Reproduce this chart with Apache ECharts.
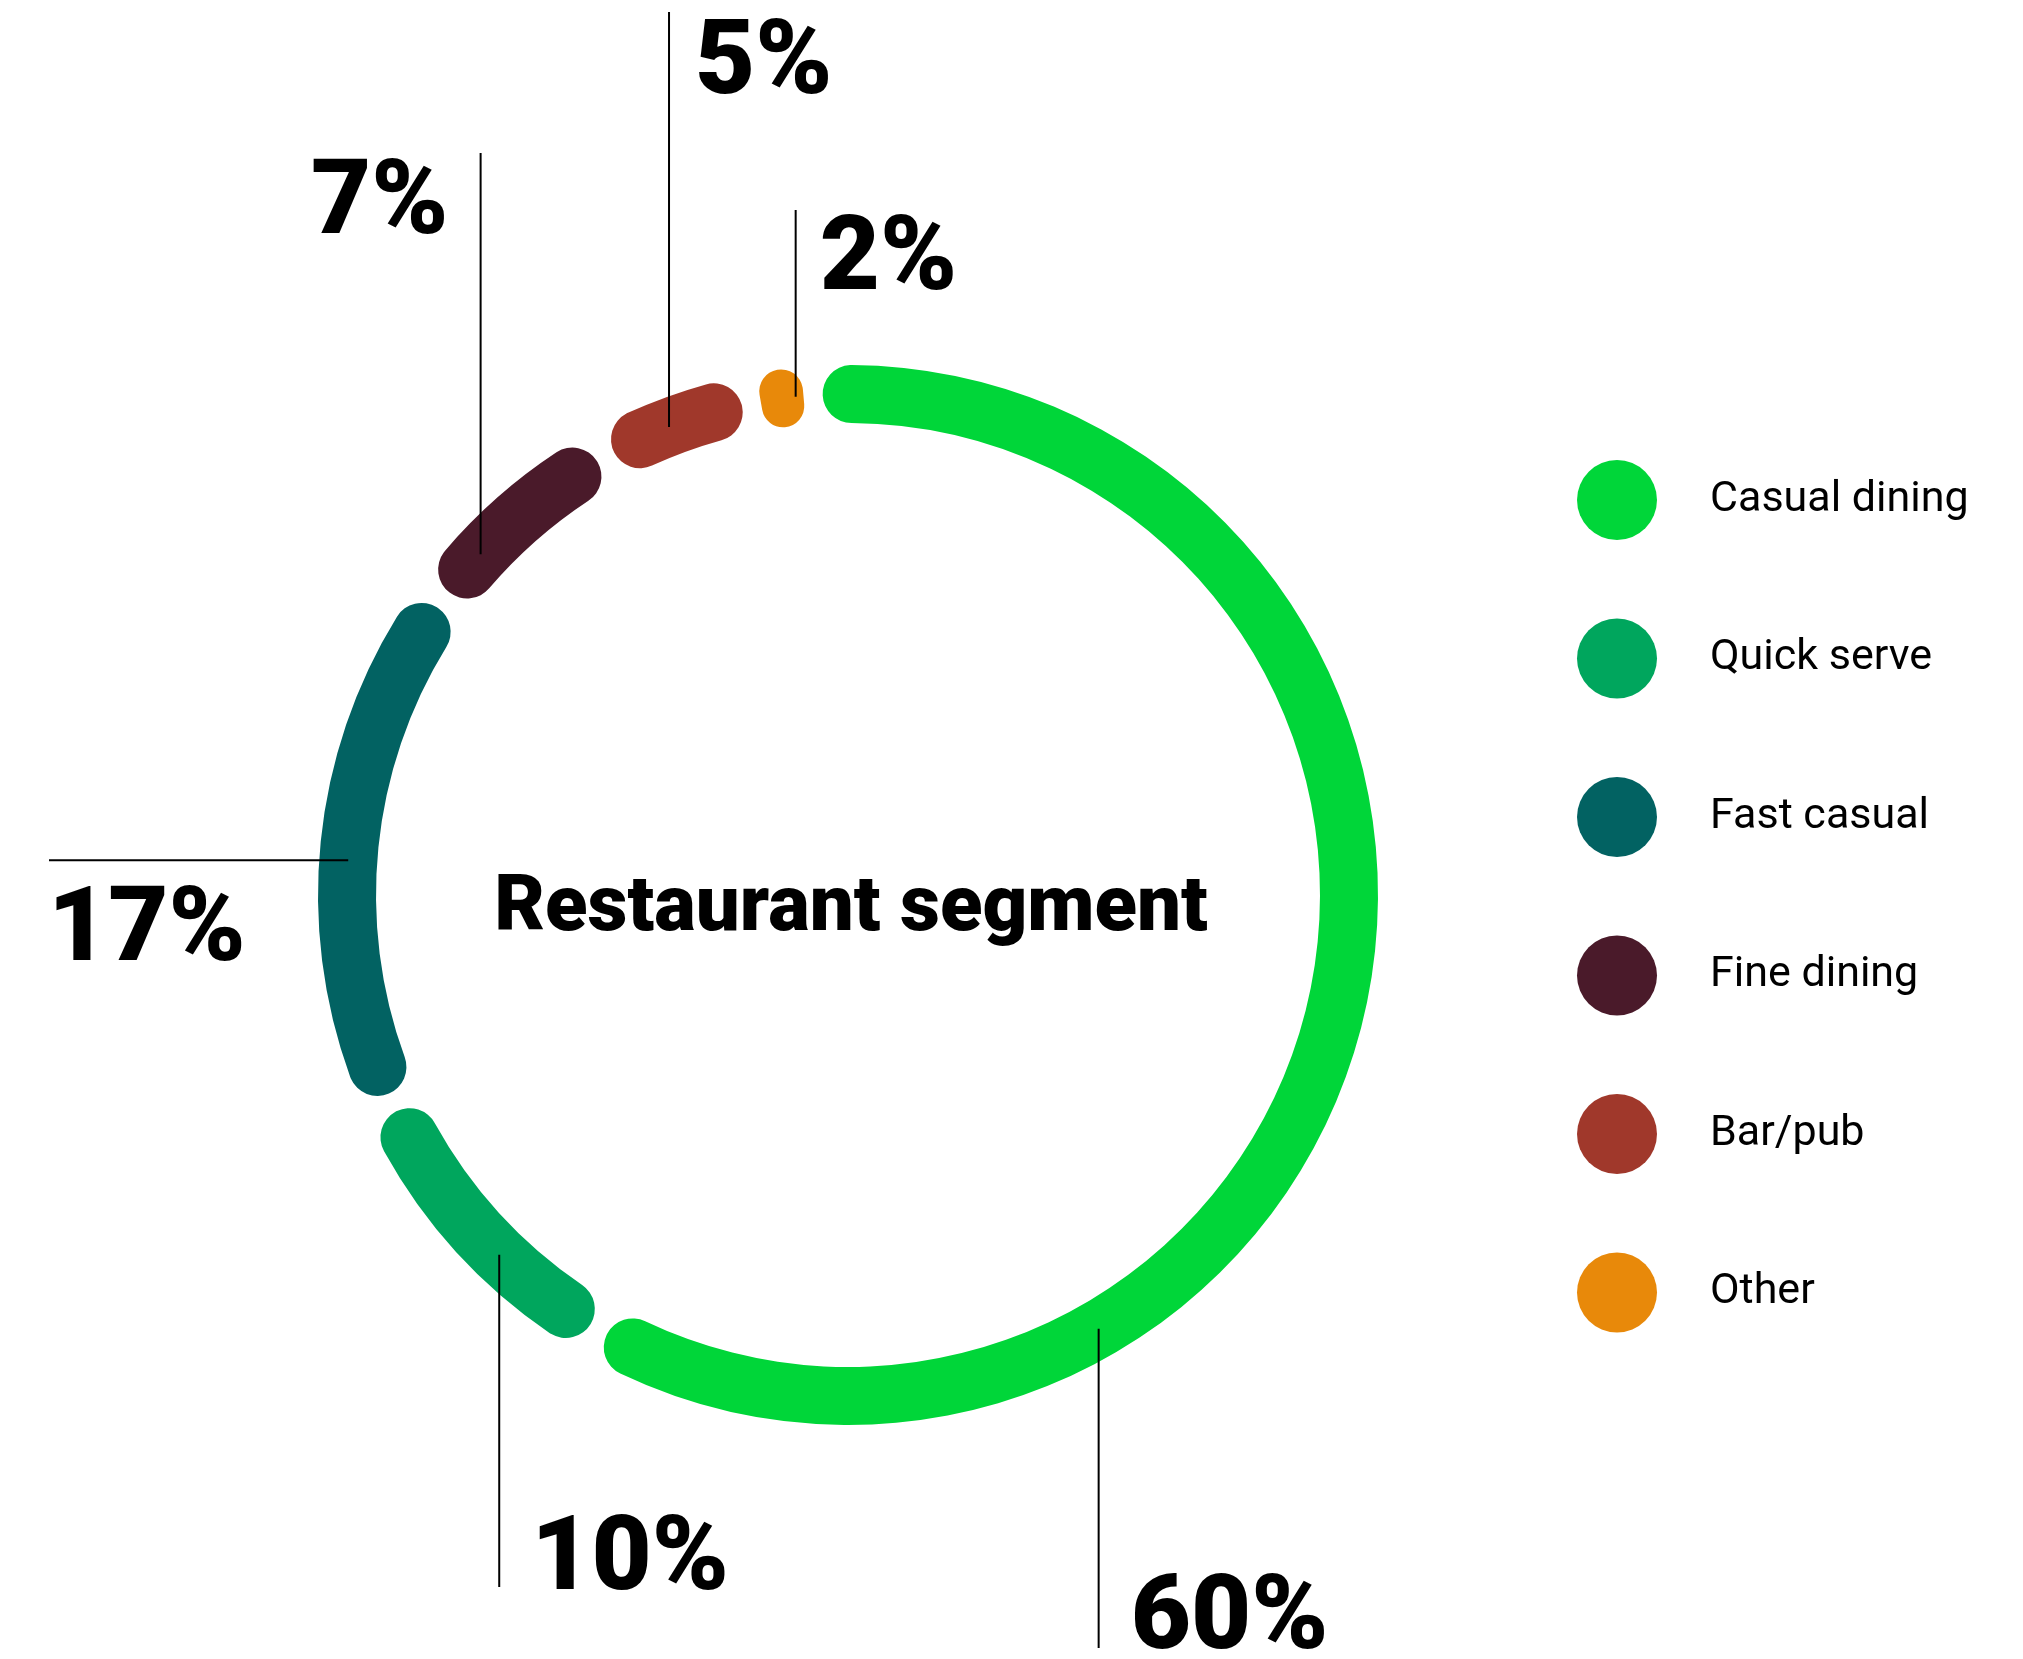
<!DOCTYPE html>
<html>
<head>
<meta charset="utf-8">
<title>Restaurant segment</title>
<script src="https://cdn.jsdelivr.net/npm/echarts@6/dist/echarts.min.js"></script>
<style>
  html, body { margin: 0; padding: 0; background: #ffffff; }
  #chart { width: 2023px; height: 1659px; }
</style>
</head>
<body>
<div id="chart"></div>
<script>
// ---- data ----
const categories = ['Casual dining', 'Quick serve', 'Fast casual', 'Fine dining', 'Bar/pub', 'Other'];
const shares = [60, 10, 17, 7, 5, 2];
const colors = ['#00D639', '#00A65D', '#026262', '#4A1A2A', '#A0382B', '#E8890A'];
const centerTitle = 'Restaurant segment';

// ---- ring geometry ----
const CX = 848, CY = 895;
const R_IN = 472, R_OUT = 530;
const R_MID = (R_IN + R_OUT) / 2;
const START_ANGLE = 94;   // echarts convention: degrees counter-clockwise from 3 o'clock
const PAD_ANGLE = 2.2;

// callout styling: where along the slice the leader line starts, which way it runs,
// where it stops, and where the value text sits relative to the line end
const callouts = [
  { frac: 0.72, dir: 'down', end: 1648, dx: 32,  dy: -26, align: 'left'  },
  { frac: 0.40, dir: 'down', end: 1587, dx: 32,  dy: -24, align: 'left'  },
  { frac: 0.47, dir: 'left', end: 49,   dx: -1,  dy: 74,  align: 'left'  },
  { frac: 0.27, dir: 'up',   end: 153,  dx: -32, dy: 54,  align: 'right' },
  { frac: 0.45, dir: 'up',   end: 12,   dx: 26,  dy: 55,  align: 'left'  },
  { frac: 0.72, dir: 'up',   end: 210,  dx: 24,  dy: 53,  align: 'left'  }
];

const total = shares.reduce((a, b) => a + b, 0);
const offsets = [];
shares.reduce((acc, v) => { offsets.push(acc); return acc + v; }, 0);

// point on the middle of the ring, part-way along slice i (same layout rule the pie uses)
function anchorPoint(i, frac) {
  const deg = (90 - START_ANGLE) + (offsets[i] + frac * shares[i]) / total * 360;
  const rad = deg * Math.PI / 180;
  return [CX + R_MID * Math.sin(rad), CY - R_MID * Math.cos(rad)];
}

// leader line for slice i: from the ring out to the callout end
function leaderPoints(i) {
  const c = callouts[i];
  const a = anchorPoint(i, c.frac);
  return c.dir === 'left' ? [a, [c.end, a[1]]] : [a, [a[0], c.end]];
}

const leaderLines = categories.map((_, i) => {
  const pts = leaderPoints(i);
  return {
    type: 'line',
    z: 100,
    silent: true,
    shape: { x1: pts[0][0], y1: pts[0][1], x2: pts[1][0], y2: pts[1][1] },
    style: { stroke: '#000000', lineWidth: 2 }
  };
});

const chart = echarts.init(document.getElementById('chart'), null, { renderer: 'canvas' });

chart.setOption({
  animation: false,
  backgroundColor: '#ffffff',
  color: colors,
  legend: {
    orient: 'vertical',
    left: 1577,
    top: 460,
    padding: 0,
    icon: 'circle',
    itemWidth: 80,
    itemHeight: 80,
    itemGap: 78.5,
    selectedMode: false,
    data: categories,
    textStyle: {
      fontFamily: 'Roboto',
      fontSize: 43,
      color: '#000000',
      padding: [0, 0, 0, 48]
    }
  },
  graphic: [{
    type: 'text',
    x: 851,
    y: 910,
    z: 100,
    style: {
      text: centerTitle,
      align: 'center',
      verticalAlign: 'middle',
      fontFamily: 'Roboto',
      fontWeight: 900,
      fontSize: 78,
      fill: '#000000'
    }
  }].concat(leaderLines),
  series: [{
    type: 'pie',
    center: [CX, CY],
    radius: [R_IN, R_OUT],
    startAngle: START_ANGLE,
    clockwise: true,
    padAngle: PAD_ANGLE,
    avoidLabelOverlap: false,
    emphasis: { disabled: true },
    itemStyle: { borderRadius: (R_OUT - R_IN) / 2 },
    label: {
      show: true,
      position: 'outside',
      formatter: p => p.value + '%',
      fontFamily: 'Roboto',
      fontWeight: 900,
      fontSize: 104,
      color: '#000000'
    },
    labelLine: { show: false },
    labelLayout: function (p) {
      const c = callouts[p.dataIndex];
      const pts = leaderPoints(p.dataIndex);
      const end = pts[1];
      return {
        x: end[0] + c.dx,
        y: end[1] + c.dy,
        align: c.align,
        verticalAlign: 'middle'
      };
    },
    data: categories.map((name, i) => ({ name: name, value: shares[i] }))
  }]
});
</script>
</body>
</html>
